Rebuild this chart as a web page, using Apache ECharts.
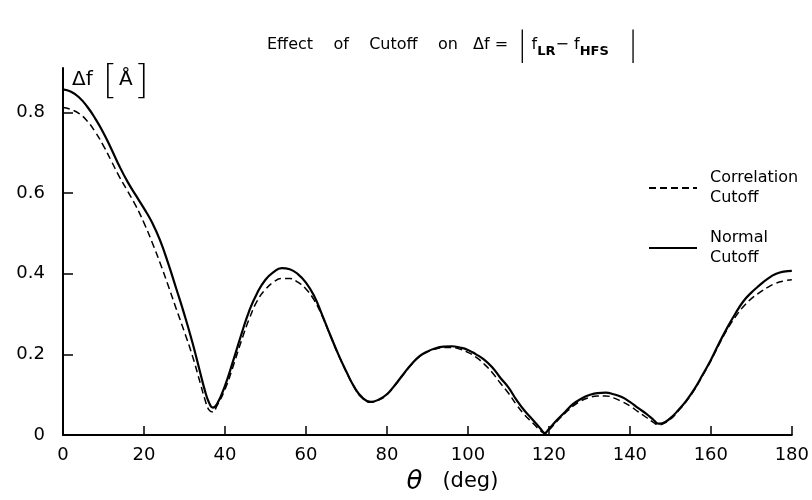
<!DOCTYPE html>
<html><head><meta charset="utf-8">
<script src="https://cdn.jsdelivr.net/npm/echarts@6/dist/echarts.min.js"></script>
<style>html,body{margin:0;padding:0;background:#fff}#c{width:812px;height:500px}</style>
</head><body><div id="c"></div>
<script>
const theta = [0,2,4,6,8,10,12,14,16,18,20,22,24,26,28,30,32,34,35,36,37,38,40,42,44,46,48,50,52,54,56,58,60,62,64,66,68,70,72,74,76,78,80,82,84,86,88,90,92,94,96,98,100,102,104,106,108,110,112,114,116,118,119,120,122,124,126,128,130,132,134,136,138,140,142,144,146,147,148,150,152,154,156,158,160,162,164,166,168,170,172,174,176,178,180];
const normalCutoff = [0.857,0.851,0.837,0.814,0.784,0.749,0.708,0.665,0.627,0.594,0.562,0.527,0.482,0.425,0.362,0.298,0.228,0.150,0.112,0.082,0.068,0.076,0.122,0.183,0.248,0.308,0.353,0.385,0.404,0.414,0.411,0.399,0.378,0.345,0.298,0.248,0.200,0.157,0.118,0.092,0.082,0.088,0.101,0.124,0.150,0.175,0.195,0.207,0.215,0.219,0.220,0.217,0.211,0.200,0.187,0.168,0.142,0.118,0.087,0.060,0.038,0.015,0.005,0.015,0.037,0.057,0.077,0.090,0.099,0.104,0.105,0.101,0.094,0.082,0.067,0.053,0.036,0.028,0.029,0.042,0.062,0.086,0.115,0.150,0.186,0.227,0.265,0.300,0.331,0.353,0.371,0.387,0.399,0.405,0.407];
const correlationCutoff = [0.812,0.807,0.797,0.778,0.751,0.717,0.678,0.639,0.604,0.568,0.526,0.478,0.426,0.370,0.312,0.255,0.195,0.125,0.090,0.063,0.057,0.072,0.113,0.170,0.232,0.288,0.333,0.361,0.379,0.388,0.388,0.379,0.362,0.335,0.295,0.247,0.199,0.156,0.117,0.091,0.081,0.087,0.100,0.123,0.149,0.174,0.194,0.206,0.213,0.217,0.217,0.213,0.205,0.193,0.176,0.155,0.129,0.104,0.075,0.050,0.030,0.010,0.004,0.012,0.034,0.054,0.072,0.085,0.093,0.097,0.097,0.092,0.083,0.072,0.058,0.044,0.030,0.025,0.027,0.039,0.060,0.084,0.113,0.148,0.184,0.224,0.261,0.292,0.318,0.338,0.353,0.366,0.376,0.382,0.385];
const yTicks = [0, 0.2, 0.4, 0.6, 0.8];
const seriesNames = ['Correlation\nCutoff', 'Normal\nCutoff'];

const FONT = 'DejaVu Sans';
const THIN = 'Lato';
const chart = echarts.init(document.getElementById('c'), null, {renderer: 'canvas'});
const pairs = arr => theta.map((t, i) => [t, arr[i]]);

chart.setOption({
  backgroundColor: '#fff',
  animation: false,
  textStyle: {fontFamily: FONT, color: '#000'},
  grid: {left: 63, right: 20, top: 68, bottom: 63, containLabel: false},
  title: {
    left: 262, top: 22,
    text: '{t|Effect    of    Cutoff    on   Δf =}{bar| |}{t| f}{sub|LR}{t|− f}{sub|HFS}{bar2||}',
    textStyle: {
      fontWeight: 'normal',
      rich: {
        t: {fontFamily: FONT, fontSize: 16, fontWeight: 'normal', color: '#000', lineHeight: 36},
        sub: {fontFamily: FONT, fontSize: 13, fontWeight: 'bold', color: '#000', verticalAlign: 'middle', padding: [14, 0, 0, 0]},
        bar: {fontFamily: THIN, fontSize: 36, fontWeight: 300, color: '#000', lineHeight: 36},
        bar2: {fontFamily: THIN, fontSize: 36, fontWeight: 300, color: '#000', lineHeight: 36, padding: [0, 0, 0, 20]}
      }
    }
  },
  legend: {
    orient: 'vertical',
    left: 648, top: 158,
    itemGap: 0,
    itemWidth: 48, itemHeight: 12,
    padding: 0,
    selectedMode: false,
    data: seriesNames,
    itemStyle: {opacity: 0},
    textStyle: {fontFamily: FONT, fontSize: 16, color: '#000', lineHeight: 20, padding: [20, 0, 0, 8]}
  },
  xAxis: {
    type: 'value', min: 0, max: 180, interval: 20,
    axisLine: {show: true, onZero: false, lineStyle: {color: '#000', width: 2}},
    axisTick: {show: true, inside: true, length: 9, lineStyle: {color: '#000', width: 1.5}},
    axisLabel: {fontFamily: FONT, fontSize: 18, color: '#000', margin: 11},
    splitLine: {show: false},
    name: '{th|θ}{d|   (deg)}',
    nameLocation: 'middle', nameGap: 34,
    nameTextStyle: {
      padding: [0, 0, 0, 50],
      rich: {
        th: {fontFamily: 'DejaVu Sans', fontStyle: 'italic', fontSize: 26, color: '#000'},
        d: {fontFamily: FONT, fontSize: 21, color: '#000'}
      }
    }
  },
  yAxis: {
    type: 'value', min: 0, max: 0.91,
    axisLine: {show: true, onZero: false, lineStyle: {color: '#000', width: 2}},
    axisTick: {show: true, inside: true, length: 10, customValues: yTicks, lineStyle: {color: '#000', width: 1.5}},
    axisLabel: {fontFamily: FONT, fontSize: 18, color: '#000', margin: 18, customValues: yTicks,
      formatter: v => (Math.abs(v) < 1e-9 ? '0' : String(+v.toFixed(1)))},
    splitLine: {show: false}
  },
  graphic: [{
    type: 'text', left: 72, top: 60,
    style: {
      text: '{a|Δf }{b|[}{a|Å}{b|]}',
      rich: {
        a: {fontFamily: FONT, fontSize: 20, fill: '#000', lineHeight: 42},
        b: {fontFamily: THIN, fontSize: 40, fontWeight: 300, fill: '#000', lineHeight: 42, padding: [0, 4, 0, 4]}
      }
    }
  }],
  series: [
    {
      name: seriesNames[0], type: 'line', data: pairs(correlationCutoff),
      showSymbol: false, symbol: 'none', smooth: 0.5,
      lineStyle: {color: '#000', width: 1.5, type: [7, 4]},
      itemStyle: {color: '#000'}
    },
    {
      name: seriesNames[1], type: 'line', data: pairs(normalCutoff),
      showSymbol: false, symbol: 'none', smooth: 0.5,
      lineStyle: {color: '#000', width: 2.2},
      itemStyle: {color: '#000'}
    }
  ]
});
</script>
</body></html>
